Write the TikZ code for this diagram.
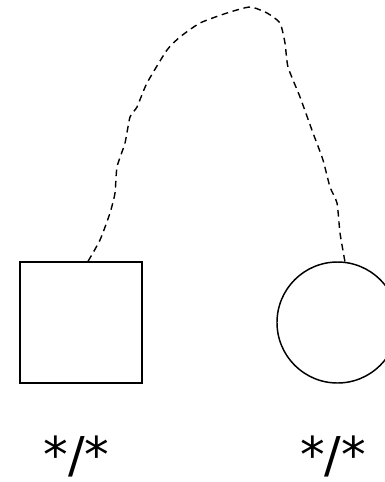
\documentclass[tikz,border=0pt]{standalone}
\usepackage{fontspec}
\setmainfont{DejaVu Sans}
\usepackage{tikz}
\usetikzlibrary{positioning, calc}

\tikzset{
	shapeline/.style={draw, line width=1.1pt, inner sep=0pt},
	linkline/.style={line width=1.05pt, dash pattern=on 5pt off 3.5pt},
	ratio/.style={font=\fontsize{37}{40}\selectfont, inner sep=0pt}
}

\begin{document}
\begin{tikzpicture}[x=0.75pt,y=-0.75pt]
	\clip (0,0) rectangle (385,482);
	\node[shapeline, rectangle, minimum width=91.5pt, minimum height=90.75pt] (sq) at (81,322.5) {};
	\node[shapeline, circle, minimum size=90.75pt] (ci) at (337.5,322.5) {};
	\node[ratio] (lblsq) at (76.5,456) {*/*};
	\node[ratio] (lblci) at (333,456) {*/*};
	\coordinate (s) at ($(sq.north west)!0.557!(sq.north east)$);
	\coordinate (e) at (ci.83);
	\draw[linkline] plot[smooth, tension=0.35] coordinates {
		(s) (100,240) (110,213) (115,193) (117,167) (125,143) (130,117)
		(137,107) (147,83) (167,50) (180,37) (200,23) (227,13) (250,7)
		(267,13) (280,23) (285,43) (288,67) (300,97) (313,133) (323,160)
		(330,187) (337,203) (340,233) (e)};
\end{tikzpicture}
\end{document}
